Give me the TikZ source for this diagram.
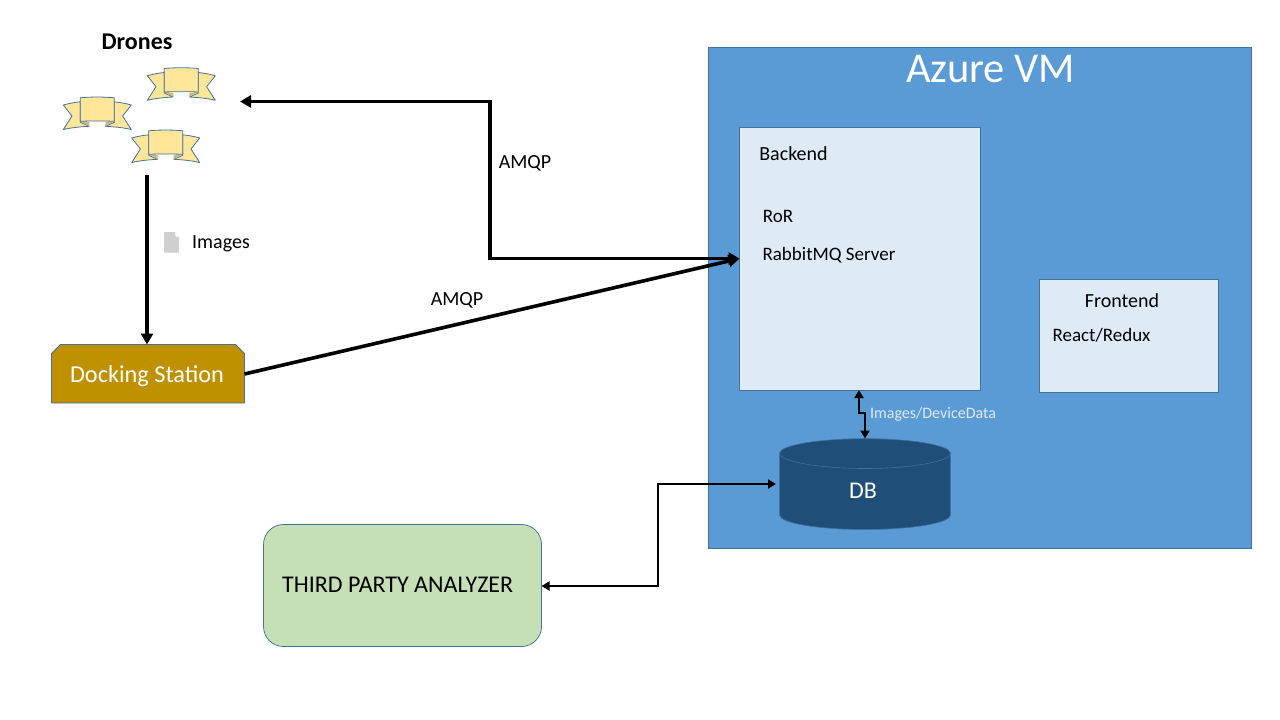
\documentclass[tikz,border=0pt]{standalone}
\usepackage{fontspec}
\setmainfont{Carlito}
\usetikzlibrary{shapes.geometric, positioning, arrows.meta}
\definecolor{AzureBlue}{HTML}{5B9BD5}
\definecolor{PaleBlue}{HTML}{DEEAF6}
\definecolor{EdgeBlue}{HTML}{41719C}
\definecolor{DockGold}{HTML}{BF9000}
\definecolor{DbNavy}{HTML}{1F4E79}
\definecolor{AnalyzerGreen}{HTML}{C5E0B4}
\definecolor{RibbonYellow}{HTML}{FFE699}
\definecolor{RibbonFold}{HTML}{CCB87A}
\definecolor{IconGrey}{HTML}{D0CECE}
\newcommand{\fs}[1]{\fontsize{#1}{#1}\selectfont}
\tikzset{
    pics/ribbon/.style={code={
        \draw[EdgeBlue, line width=0.8pt, fill=RibbonYellow, line join=round]
            (-34,7.7) .. controls (-28,6) and (-22,5) .. (-17,4.5) -- (-17,25) -- (-8,29) .. controls (-18,29.5) and (-27,30.5) .. (-34,32.3) -- (-25.3,18.7) -- cycle;
        \draw[EdgeBlue, line width=0.8pt, fill=RibbonYellow, line join=round]
            (34,7.7) .. controls (28,6) and (22,5) .. (17,4.5) -- (17,25) -- (8,29) .. controls (18,29.5) and (27,30.5) .. (34,32.3) -- (25.3,18.7) -- cycle;
        \fill[RibbonFold] (-17,24) -- (-8,25) -- (-8,29) -- cycle;
        \fill[RibbonFold] (17,24) -- (8,25) -- (8,29) -- cycle;
        \draw[EdgeBlue, line width=0.8pt, fill=RibbonYellow]
            (-17,0.5) .. controls (-8,-0.5) and (8,-0.5) .. (17,0.5) -- (17,24) .. controls (8,23.6) and (-8,23.6) .. (-17,24) -- cycle;
    }}
}
\begin{document}
\begin{tikzpicture}[x=1pt, y=-1pt,
        panel/.style={draw=EdgeBlue, line width=0.75pt, fill=PaleBlue, rectangle, inner sep=0pt, outer sep=0pt},
        label/.style={font=\fs{20}, black, inner sep=0pt},
        smalllabel/.style={font=\fs{19}, black, inner sep=0pt},
        arrow/.style={-{Triangle[length=11pt, width=12pt]}, line width=3.6pt, black},
        twoway/.style={{Triangle[length=11pt, width=12pt]}-{Triangle[length=11pt, width=12pt]}, line width=3.6pt, black},
        thinarrow/.style={{Triangle[length=8pt, width=9pt]}-{Triangle[length=8pt, width=9pt]}, line width=2.8pt, black}
    ]
    \useasboundingbox (0,0) rectangle (1280,720);
    % Azure VM with its two boxes
    \node[panel, fill=AzureBlue, minimum width=543pt, minimum height=501pt] (azure) at (980,298) {};
    \node[font=\fs{42.5}, white, inner sep=0pt] (azuretitle) at (990.5,69) {Azure VM};
    \node[panel, minimum width=241pt, minimum height=263pt] (backend) at (860,258.5) {};
    \node[panel, minimum width=179pt, minimum height=113pt] (frontend) at (1129,335.5) {};
    \node[label] (backendlabel) at (793.5,154) {Backend};
    \node[smalllabel] (ror) at (778,216) {RoR};
    \node[smalllabel] (rabbit) at (829,255) {RabbitMQ Server};
    \node[label] (frontendlabel) at (1122,301) {Frontend};
    \node[smalllabel] (react) at (1101.5,335) {React/Redux};
    % Database
    \draw[EdgeBlue, line width=0.6pt, fill=DbNavy]
        (779.5,453.3) .. controls (779.5,445.3) and (818,438.7) .. (865,438.7)
        .. controls (912,438.7) and (950.5,445.3) .. (950.5,453.3) -- (950.5,515)
        .. controls (950.5,523) and (912,529.5) .. (865,529.5)
        .. controls (818,529.5) and (779.5,523) .. (779.5,515) -- cycle;
    \draw[EdgeBlue, line width=0.6pt]
        (779.5,453.3) .. controls (779.5,461.3) and (818,468.5) .. (865,468.5)
        .. controls (912,468.5) and (950.5,461.3) .. (950.5,453.3);
    \node[minimum width=171pt, minimum height=91pt, inner sep=0pt, outer sep=0pt] (db) at (865,484) {};
    \node[font=\fs{24}, white, inner sep=0pt] (dblabel) at (863,491) {DB};
    % Drones
    \pic at (181.3,68) {ribbon};
    \pic at (97.3,97.3) {ribbon};
    \pic at (165.7,130.3) {ribbon};
    \node[font=\bfseries\fs{24}, black, inner sep=0pt] (drones) at (137,42) {Drones};
    \coordinate (dronesout) at (147,175);
    \coordinate (dronesin) at (240,101.5);
    % Docking station and analyzer
    \draw[EdgeBlue, line width=0.75pt, fill=DockGold]
        (51.5,403) -- (51.5,353.5) -- (60.5,344.5) -- (235.5,344.5) -- (244.5,353.5) -- (244.5,403) -- cycle;
    \node[minimum width=193pt, minimum height=59pt, inner sep=0pt, outer sep=0pt] (dock) at (148,374) {};
    \node[font=\fs{24.3}, white, inner sep=0pt] (docklabel) at (147,376) {Docking Station};
    \node[draw=EdgeBlue, line width=0.75pt, fill=AnalyzerGreen, rounded corners=20pt, minimum width=278pt, minimum height=122pt, inner sep=0pt, outer sep=0pt] (analyzer) at (402.5,585.5) {};
    \node[font=\fs{24}, black, inner sep=0pt, anchor=west] (analyzerlabel) at (282,585) {THIRD PARTY ANALYZER};
    % Image file icon
    \fill[IconGrey] (164,232) -- (175,232) -- (179,237) -- (179,252.5) -- (164,252.5) -- cycle;
    \fill[white] (175,232) -- (175.6,236.4) -- (179,237) -- cycle;
    % Arrows
    \draw[arrow] (dronesout) -- (dronesout |- dock.north);
    \draw[arrow] (dock.east) -- (backend.west);
    \coordinate (amqpbend) at (490,101.5);
    \draw[twoway] (dronesin) -- (amqpbend) |- (backend.west);
    \coordinate (dataleft) at (859,413);
    \coordinate (dbtop) at (865,438.5);
    \draw[thinarrow] (dataleft |- backend.south) -- (dataleft) -| (dbtop);
    \coordinate (dbleft) at (776,484);
    \coordinate (analyzerbend) at (658,484);
    \draw[thinarrow] (analyzer.east) ++(0,0.5) -| (analyzerbend) -- (dbleft);
    % Labels
    \node[label] (amqpa) at (525,163) {AMQP};
    \node[label] (amqpb) at (457,300) {AMQP};
    \node[label] (images) at (221,244) {Images};
    \node[font=\fs{16}, PaleBlue, inner sep=0pt] (datalabel) at (933,414) {Images/DeviceData};
\end{tikzpicture}
\end{document}
